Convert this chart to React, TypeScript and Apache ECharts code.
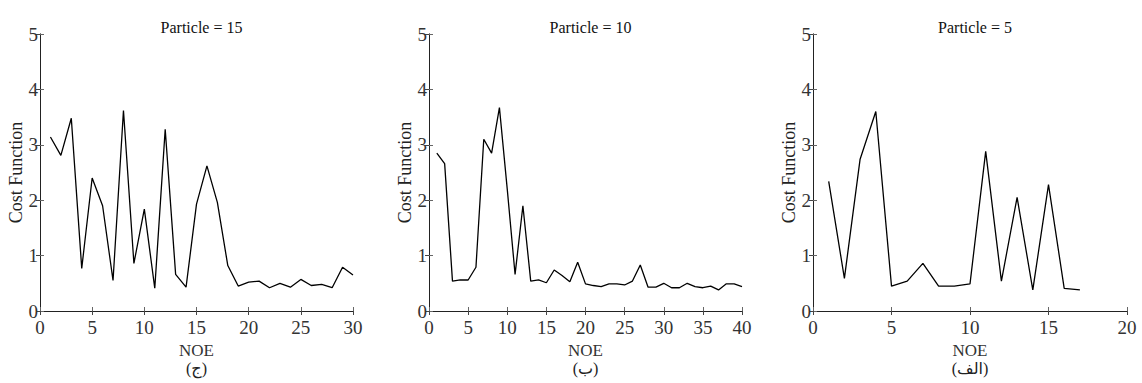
import React, { useEffect, useRef } from "react";
import * as echarts from "echarts";

const p15Values = [3.14, 2.81, 3.48, 0.77, 2.40, 1.90, 0.55, 3.62, 0.86, 1.84, 0.41, 3.28, 0.66, 0.43, 1.93, 2.62, 1.96, 0.82, 0.45, 0.52, 0.54, 0.42, 0.50, 0.43, 0.57, 0.46, 0.48, 0.42, 0.79, 0.65];
const p10Values = [2.85, 2.66, 0.54, 0.56, 0.56, 0.79, 3.10, 2.85, 3.67, 2.2, 0.66, 1.90, 0.54, 0.56, 0.51, 0.74, 0.64, 0.53, 0.88, 0.49, 0.46, 0.44, 0.49, 0.49, 0.47, 0.54, 0.83, 0.43, 0.43, 0.50, 0.42, 0.42, 0.50, 0.44, 0.42, 0.45, 0.38, 0.49, 0.49, 0.44];
const p5Values = [2.34, 0.59, 2.74, 3.60, 0.45, 0.54, 0.86, 0.45, 0.45, 0.49, 2.88, 0.54, 2.05, 0.38, 2.28, 0.41, 0.38];

const titles = ["Particle = 15", "Particle = 10", "Particle = 5"];
const letters = ["(ج)", "(ب)", "(الف)"];
const xMaxes = [30, 40, 20];
const xName = "NOE";
const yName = "Cost Function";

const FONT = "'Liberation Serif', 'Times New Roman', 'DejaVu Sans', serif";

export default function App() {
  const ref = useRef<HTMLDivElement>(null);
  useEffect(() => {
    if (!ref.current) return;
    const chart = echarts.init(ref.current, undefined, { renderer: "svg" });
    const seriesData = [p15Values, p10Values, p5Values];
    const grids = [
      { left: 40, top: 34, width: 313, height: 277 },
      { left: 429, top: 34, width: 313, height: 277 },
      { left: 813, top: 34, width: 314, height: 277 },
    ];
    const xAxes: any[] = [];
    const yAxes: any[] = [];
    const series: any[] = [];
    const title: any[] = [];
    const graphic: any[] = [];
    grids.forEach((g, i) => {
      const cx = g.left + g.width / 2;
      xAxes.push({
        type: "value", gridIndex: i, position: "bottom", min: 0, max: xMaxes[i], interval: 5,
        name: xName, nameLocation: "middle", nameGap: 26,
        nameTextStyle: { fontFamily: FONT, fontSize: 17, color: "#333" },
        axisLine: { show: true, lineStyle: { color: "#666", width: 1 } },
        axisTick: { show: true, inside: true, length: 4, lineStyle: { color: "#666" } },
        axisLabel: { fontFamily: FONT, fontSize: 19, color: "#333", margin: 7 },
        splitLine: { show: false },
      });
      xAxes.push({
        type: "value", gridIndex: i, position: "top", min: 0, max: xMaxes[i], interval: 5,
        axisLine: { show: true, lineStyle: { color: "#222", width: 1 } },
        axisTick: { show: true, inside: true, length: 4, lineStyle: { color: "#444" } },
        axisLabel: { show: false },
        splitLine: { show: false },
      });
      yAxes.push({
        type: "value", gridIndex: i, position: "left", min: 0, max: 5, interval: 1,
        name: yName, nameLocation: "middle", nameGap: 15,
        nameTextStyle: { fontFamily: FONT, fontSize: 18, color: "#222" },
        axisLine: { show: true, lineStyle: { color: "#666", width: 1 } },
        axisTick: { show: true, inside: true, length: 4, lineStyle: { color: "#666" } },
        axisLabel: { fontFamily: FONT, fontSize: 19, color: "#333", margin: 2, padding: [3, 0, 0, 0] },
        splitLine: { show: false },
      });
      yAxes.push({
        type: "value", gridIndex: i, position: "right", min: 0, max: 5, interval: 1,
        axisLine: { show: true, lineStyle: { color: "#222", width: 1 } },
        axisTick: { show: true, inside: true, length: 4, lineStyle: { color: "#444" } },
        axisLabel: { show: false },
        splitLine: { show: false },
      });
      series.push({
        type: "line",
        xAxisIndex: i * 2,
        yAxisIndex: i * 2,
        data: seriesData[i].map((v, k) => [k + 1, v]),
        showSymbol: false,
        symbol: "none",
        lineStyle: { color: "#000", width: 1.3 },
      });
      title.push({
        text: titles[i], left: cx, top: 14, textAlign: "center",
        textStyle: { fontFamily: FONT, fontSize: 16, fontWeight: "normal", color: "#111" },
      });
      graphic.push({
        type: "text", x: cx, y: 368,
        style: { text: letters[i], font: `16px ${FONT}`, fill: "#222", align: "center", verticalAlign: "middle" },
      });
    });
    chart.setOption({
      animation: false,
      backgroundColor: "#fff",
      grid: grids,
      xAxis: xAxes,
      yAxis: yAxes,
      series,
      title,
      graphic,
    });
    return () => chart.dispose();
  }, []);
  return (
    <div
      ref={ref}
      style={{ position: "fixed", left: 0, top: 0, width: 1142, height: 383, background: "#fff" }}
    />
  );
}
